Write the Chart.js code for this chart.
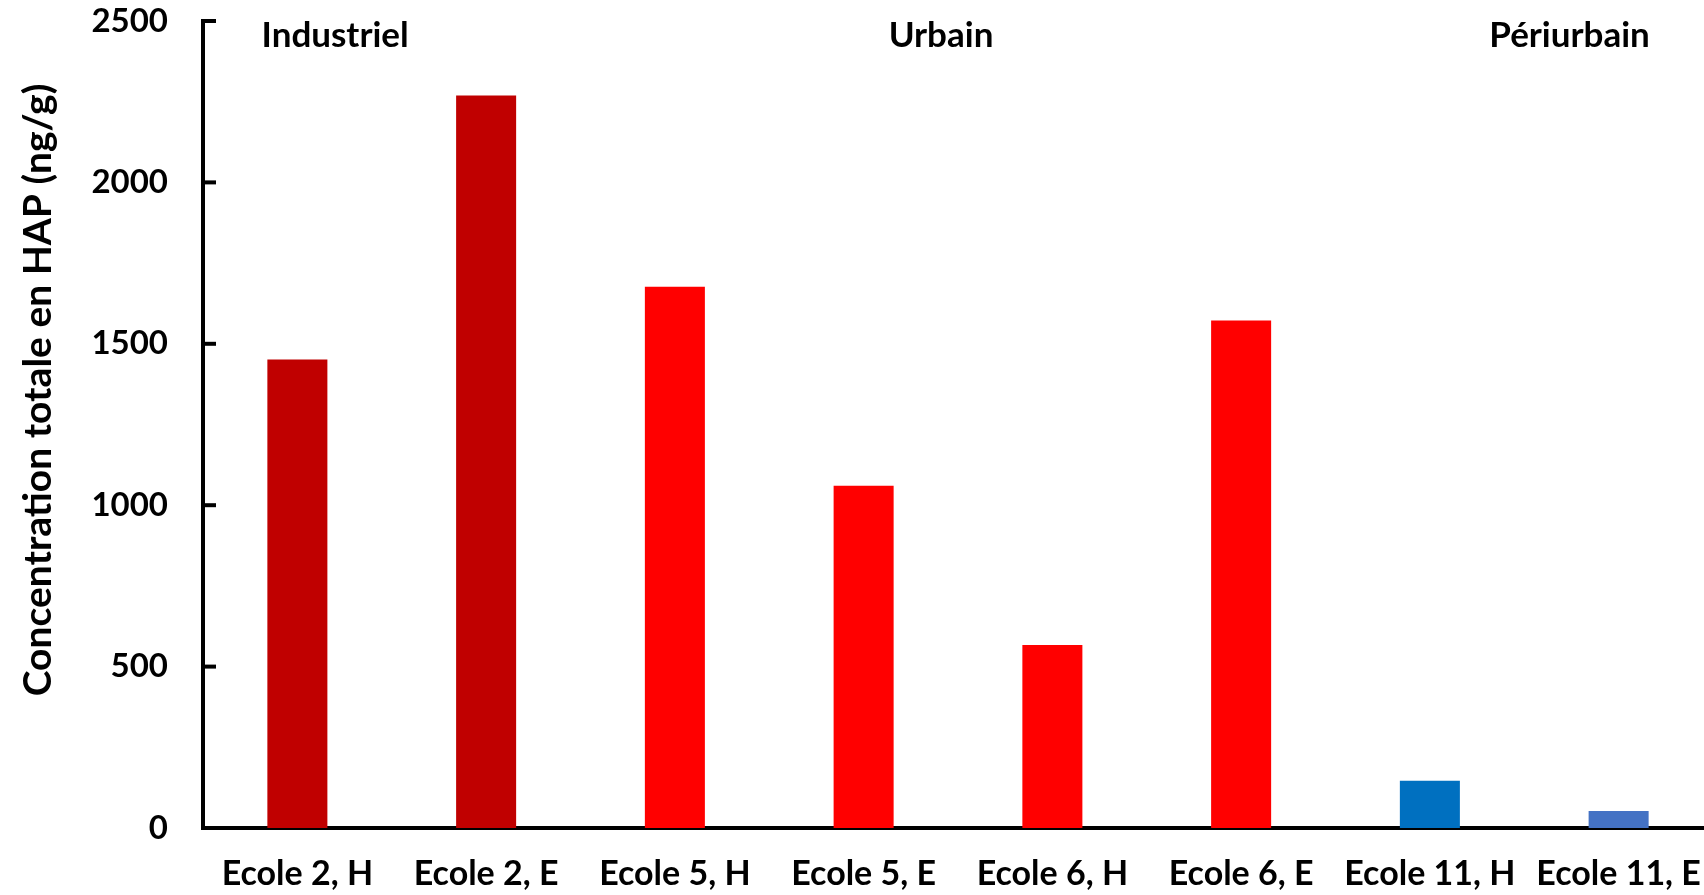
<!DOCTYPE html>
<html>
<head>
<meta charset="utf-8">
<script src="https://cdn.jsdelivr.net/npm/chart.js@4.4.1/dist/chart.umd.min.js"></script>
<style>
    html, body { margin: 0; padding: 0; background: #fff; overflow: hidden; }
    #wrap { width: 1713px; height: 895px; }
</style>
</head>
<body>
<div id="wrap"><canvas id="bar"></canvas></div>
<script>
var schools = ["Ecole 2, H", "Ecole 2, E", "Ecole 5, H", "Ecole 5, E", "Ecole 6, H", "Ecole 6, E", "Ecole 11, H", "Ecole 11, E"];
var hapValues = [1451, 2269, 1677, 1060, 567, 1572, 146, 53];
var barColors = ["#C00000", "#C00000", "#FF0000", "#FF0000", "#FF0000", "#FF0000", "#0070C0", "#4472C4"];
var yTicks = [0, 500, 1000, 1500, 2000, 2500];

// zone labels, placed in category units along x and data units along y
var zoneNames = ["Industriel", "Urbain", "Périurbain"];
var zonePos = [0.2, 3.41, 6.74];
var zoneLevel = 2455;

var yTitle = "Concentration totale en HAP (ng/g)";
var fontName = "Lato";

// inward tick marks on the y axis
var innerTicks = {
    id: "innerTicks",
    afterDraw: function (chart) {
        var y = chart.scales.y;
        var ctx = chart.ctx;
        ctx.save();
        ctx.strokeStyle = "#000";
        ctx.lineWidth = 4;
        y.ticks.forEach(function (t) {
            var py = y.getPixelForValue(t.value);
            ctx.beginPath();
            ctx.moveTo(y.right, py);
            ctx.lineTo(y.right + 13, py);
            ctx.stroke();
        });
        ctx.restore();
    }
};

var textBits = {
    id: "textBits",
    afterDraw: function (chart) {
        var ctx = chart.ctx;
        var x = chart.scales.x;
        var y = chart.scales.y;
        ctx.save();
        ctx.fillStyle = "#000";
        ctx.textAlign = "center";
        ctx.textBaseline = "middle";
        ctx.font = "bold 35px " + fontName;
        zoneNames.forEach(function (name, i) {
            ctx.fillText(name, x.getPixelForValue(zonePos[i]), y.getPixelForValue(zoneLevel));
        });
        ctx.translate(38, 390);
        ctx.rotate(-Math.PI / 2);
        ctx.font = "bold 39px " + fontName;
        ctx.fillText(yTitle, 0, 0);
        ctx.restore();
    }
};

new Chart("bar", {
    type: "bar",
    data: {
        labels: schools,
        datasets: [{
            data: hapValues,
            backgroundColor: barColors,
            barPercentage: 0.318,
            categoryPercentage: 1.0
        }]
    },
    options: {
        responsive: true,
        maintainAspectRatio: false,
        animation: false,
        layout: { padding: { top: 21, right: 0, bottom: 0, left: 0 } },
        plugins: {
            legend: { display: false },
            tooltip: { enabled: false }
        },
        scales: {
            x: {
                grid: { display: false, drawTicks: false },
                border: { display: true, color: "#000", width: 4 },
                ticks: {
                    color: "#000",
                    maxRotation: 0,
                    autoSkip: false,
                    padding: 26,
                    font: { family: fontName, size: 34, weight: "bold" }
                },
                afterFit: function (s) {
                    s.height = 67;
                    s.paddingLeft = 0;
                    s.paddingRight = 0;
                }
            },
            y: {
                min: 0,
                max: 2500,
                afterBuildTicks: function (s) {
                    s.ticks = yTicks.map(function (v) { return { value: v }; });
                },
                grid: { display: false, drawTicks: false },
                border: { display: true, color: "#000", width: 4 },
                ticks: {
                    color: "#000",
                    padding: 35,
                    font: { family: fontName, size: 33, weight: "bold" },
                    callback: function (v) { return String(v); }
                },
                afterFit: function (s) {
                    s.width = 203;
                    s.paddingTop = 0;
                    s.paddingBottom = 0;
                }
            }
        }
    },
    plugins: [innerTicks, textBits]
});
</script>
</body>
</html>
